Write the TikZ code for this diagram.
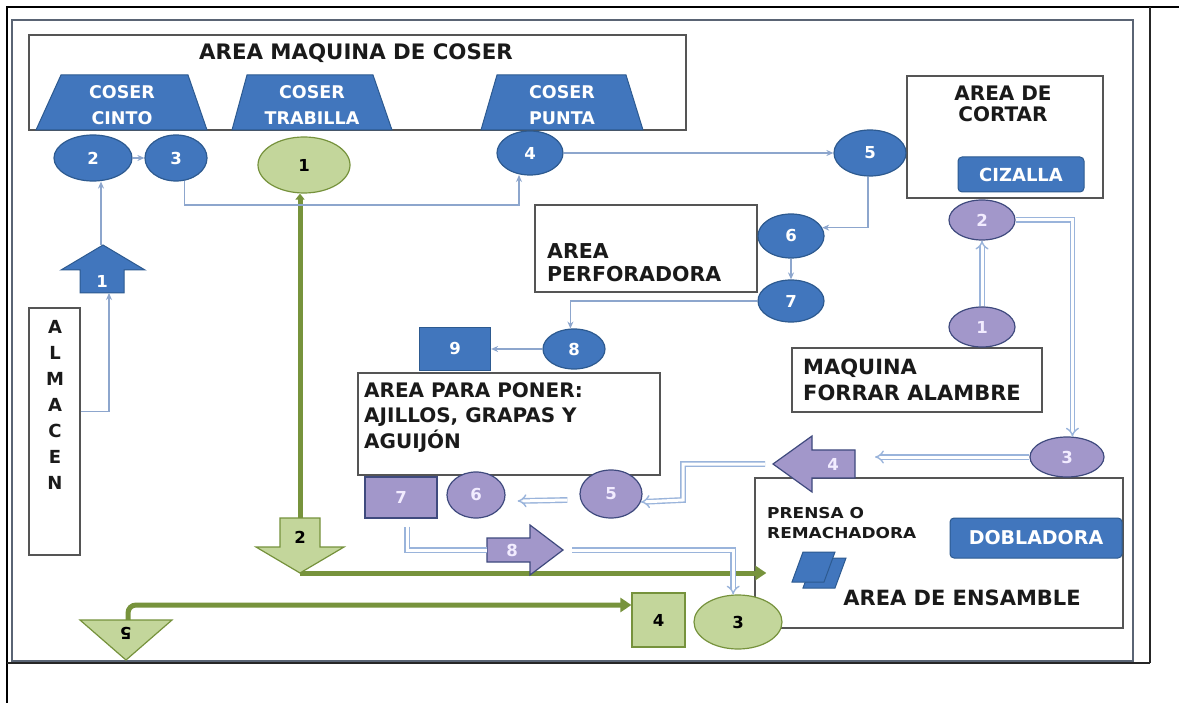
\documentclass[tikz,border=0pt]{standalone}
\usepackage{fontspec}
\setmainfont{DejaVu Sans}
\newfontfamily\widesans{DejaVu Sans}[FakeStretch=1.13]
\usetikzlibrary{shapes.geometric,arrows.meta,calc}

\definecolor{blueF}{HTML}{4176BD}
\definecolor{blueD}{HTML}{2D5A90}
\definecolor{purF}{HTML}{A297CA}
\definecolor{purD}{HTML}{3F4A7E}
\definecolor{purT}{HTML}{F2ECFF}
\definecolor{grF}{HTML}{C3D69B}
\definecolor{grD}{HTML}{76923C}
\definecolor{grL}{HTML}{77933C}
\definecolor{connC}{HTML}{8DA6CD}
\definecolor{dblC}{HTML}{9AB4DB}
\definecolor{boxC}{HTML}{555555}
\definecolor{frameC}{HTML}{5A6474}
\definecolor{txtC}{HTML}{1A1A1A}

\begin{document}
\begin{tikzpicture}[x=1pt,y=-1pt,
  lab/.style={font=\fontsize{20.5}{23}\selectfont\bfseries, text=txtC, inner sep=0},
  num/.style={font=\fontsize{16.5}{16.5}\selectfont\bfseries, inner sep=0},
  areabox/.style={rectangle, draw=boxC, line width=1.3, fill=white, inner sep=0},
  bluec/.style={ellipse, draw=blueD, fill=blueF, line width=1.2, text=white, num},
  purc/.style={ellipse, draw=purD, fill=purF, line width=1.2, text=purT, num},
  greenc/.style={ellipse, draw=grD, fill=grF, line width=1.2, text=black, num},
  bluebtn/.style={rectangle, rounded corners=4, draw=blueD, fill=blueF, line width=1,
    text=white, font=\fontsize{18}{18}\selectfont\bfseries, inner sep=0},
  bluepoly/.style={draw=blueD, fill=blueF, line width=1},
  purpoly/.style={draw=purD, fill=purF, line width=1.2},
  greenpoly/.style={draw=grD, fill=grF, line width=1.2},
  conn/.style={draw=connC, line width=1.4, -{Stealth[length=7pt,width=6pt]}},
  dbl/.style={draw=dblC, double=white, double distance=3pt, line width=1.4pt},
  dbla/.style={dbl, -{Implies}},
  greenln/.style={draw=grL, line width=5},
  trapt/.style={font=\fontsize{17.5}{26}\selectfont\bfseries, text=white, align=center, inner sep=0}
]
\useasboundingbox (0,0) rectangle (1179,703);
\fill[white] (0,0) rectangle (1179,703);

% page frames
\draw[line width=1.4, frameC] (12,20) rectangle (1133,661);
\draw[line width=2, black] (7,703) -- (7,7) -- (1179,7);
\draw[line width=1.8, black!85] (1150,7) -- (1150,663);
\draw[line width=2, black!85] (7,663) -- (1150,663);

% area boxes
\node[areabox, minimum width=657, minimum height=95]  (coser)  at (357.5,82.5) {};
\node[areabox, minimum width=196, minimum height=122] (cortar) at (1005,137) {};
\node[areabox, minimum width=222, minimum height=87]  (perf)   at (646,248.5) {};
\node[areabox, minimum width=250, minimum height=64]  (forrar) at (917,380) {};
\node[areabox, minimum width=302, minimum height=102] (poner)  at (509,424) {};
\node[areabox, minimum width=51,  minimum height=247] (alm)    at (54.5,431.5) {};
\node[areabox, minimum width=368, minimum height=150] (ens)    at (939,553) {};

% box titles
\node[lab, font=\fontsize{21.3}{24}\selectfont\bfseries] (coser-t) at (356,53) {AREA MAQUINA DE COSER};
\node[lab, align=center, font=\fontsize{20}{21}\selectfont\bfseries] (cortar-t) at (1003,104) {AREA DE\\CORTAR};
\node[lab, anchor=west, align=left] (perf-t) at (547,263) {AREA\\PERFORADORA};
\node[lab, anchor=west, align=left, font=\fontsize{21}{26}\selectfont\bfseries] (forrar-t) at (803,380) {MAQUINA\\FORRAR ALAMBRE};
\node[lab, anchor=west, align=left, font=\fontsize{20}{25.5}\selectfont\bfseries] (poner-t) at (364,417.5) {AREA PARA PONER:\\AJILLOS, GRAPAS Y\\AGUIJÓN};
\node[lab, align=center, font=\fontsize{18}{26}\selectfont\bfseries] (alm-t) at (55,405) {A\\L\\M\\A\\C\\E\\N};
\node[lab, anchor=west, align=left, font=\widesans\fontsize{15}{20}\selectfont\bfseries] (prensa-t) at (767,523) {PRENSA O\\REMACHADORA};
\node[lab, font=\fontsize{21}{24}\selectfont\bfseries] (ens-t) at (962,598) {AREA DE ENSAMBLE};

% sewing machines
\filldraw[bluepoly] (36,130) -- (61,75) -- (188,75) -- (207,130) -- cycle;
\filldraw[bluepoly] (232,130) -- (247,75) -- (373,75) -- (392,130) -- cycle;
\filldraw[bluepoly] (481,130) -- (497,75) -- (626,75) -- (643,130) -- cycle;
\node[trapt] (cinto-t) at (122,105) {COSER\\CINTO};
\node[trapt] (trab-t)  at (312,105) {COSER\\TRABILLA};
\node[trapt] (punta-t) at (562,105) {COSER\\PUNTA};

% machines inside areas
\node[bluebtn, minimum width=126, minimum height=35] (ciz) at (1021,174.5) {CIZALLA};
\node[bluebtn, minimum width=172, minimum height=40, font=\fontsize{19}{19}\selectfont\bfseries] (dobl) at (1036,538) {DOBLADORA};
\filldraw[bluepoly] (803,588) -- (814,558) -- (846,558) -- (835,588) -- cycle;
\filldraw[bluepoly] (792,582) -- (803,552) -- (835,552) -- (824,582) -- cycle;

% process steps: belt line (blue)
\node[bluec, minimum width=78, minimum height=46] (c2) at (93,158) {2};
\node[bluec, minimum width=62, minimum height=46] (c3) at (176,158) {3};
\node[bluec, minimum width=66, minimum height=44] (c4) at (530,153) {4};
\node[bluec, minimum width=72, minimum height=46] (c5) at (870,153) {5};
\node[bluec, minimum width=66, minimum height=44] (c6) at (791,236) {6};
\node[bluec, minimum width=66, minimum height=42] (c7) at (791,301) {7};
\node[bluec, minimum width=62, minimum height=40] (c8) at (574,349) {8};
\node[rectangle, draw=blueD, fill=blueF, line width=1.2, text=white, num,
      minimum width=71, minimum height=43] (b9) at (455,349) {9};
\filldraw[bluepoly] (61,270) -- (103,245) -- (145,270) -- (124,270) -- (124,293) -- (80,293) -- (80,270) -- cycle;
\node[num, text=white] (a1-t) at (102,281) {1};
\coordinate (a1tip) at (101,245);
\coordinate (a1in) at (109,293);

% green product flow
\node[greenc, minimum width=92, minimum height=56] (g1) at (304,165) {1};
\node[greenc, minimum width=88, minimum height=54] (g3) at (738,622) {3};
\node[rectangle, draw=grD, fill=grF, line width=1.2, text=black, num,
      minimum width=53, minimum height=54] (g4) at (658.5,620) {4};
\coordinate (a2top) at (300,518);
\coordinate (a2tip) at (300,573);
\coordinate (t5top) at (128,620);
\draw[greenln, -{Triangle[length=6pt,width=9pt]}] (a2top) -- (a2top |- g1.south);
\draw[greenln, -{Triangle[length=11pt,width=14pt]}] (a2tip) -- ($(ens.west |- a2tip)+(12,0)$);
\draw[greenln, rounded corners=8, -{Triangle[length=11pt,width=14pt]}] (t5top) |- ($(g4.west)+(0,-15)$);
\filldraw[greenpoly] (280,518) -- (320,518) -- (320,547) -- (344,547) -- (300,573) -- (256,547) -- (280,547) -- cycle;
\node[num, text=black] (a2-t) at (300,537) {2};
\filldraw[greenpoly] (80,620) -- (172,620) -- (126,660) -- cycle;
\node[num, text=black, rotate=180] (t5-t) at (126,633) {5};

% process steps: wire line (purple)
\node[purc, minimum width=66, minimum height=40] (p1) at (982,327) {1};
\node[purc, minimum width=66, minimum height=40] (p2) at (982,220) {2};
\node[purc, minimum width=74, minimum height=40] (p3) at (1067,457) {3};
\node[purc, minimum width=62, minimum height=48] (p5) at (611,494) {5};
\node[purc, minimum width=58, minimum height=46] (p6) at (476,495) {6};
\node[rectangle, draw=purD, fill=purF, line width=1.2, text=purT, num,
      minimum width=72, minimum height=41] (b7) at (401,497.5) {7};
\filldraw[purpoly] (773,464) -- (812,436) -- (812,450) -- (855,450) -- (855,478) -- (812,478) -- (812,492) -- cycle;
\node[num, text=purT] (a4-t) at (833,464) {4};
\filldraw[purpoly] (487,538) -- (530,538) -- (530,525) -- (563,550) -- (530,575) -- (530,562) -- (487,562) -- cycle;
\node[num, text=purT] (a8-t) at (512,550) {8};
\coordinate (a4s) at (765,464);
\coordinate (a4in) at (875,457);
\coordinate (a8in) at (487,550);
\coordinate (a8out) at (572,550);

% blue connectors
\draw[conn] (c2) -- (c3);
\draw[conn] (c3.290) |- (519,205) -- (519,175);
\draw[conn] (c4) -- (c5);
\draw[conn] (c5.265) |- (c6.15);
\draw[conn] (c6) -- (c7);
\draw[conn] (c7.west) -| (c8.100);
\draw[conn] (c8) -- (b9);
\draw[conn] ($(alm.east)+(0,-20)$) -| (a1in);
\draw[conn] (a1tip) -- (a1tip |- c2.south);

% purple double connectors
\draw[dbla] (p1) -- (p2);
\draw[dbla] (p2.east) -| (p3.75);
\draw[dbla] (p3.west) -- (a4in);
\draw[dbla] (a4s) -| (683,500) -- (p5.-15);
\draw[dbla] ($(p5.west)+(-12,6)$) -- ($(p6.east)+(12,6)$);
\draw[dbl] ($(b7.south)+(6,8)$) |- (a8in);
\draw[dbla] (a8out) -| (g3.100);

\end{tikzpicture}
\end{document}
